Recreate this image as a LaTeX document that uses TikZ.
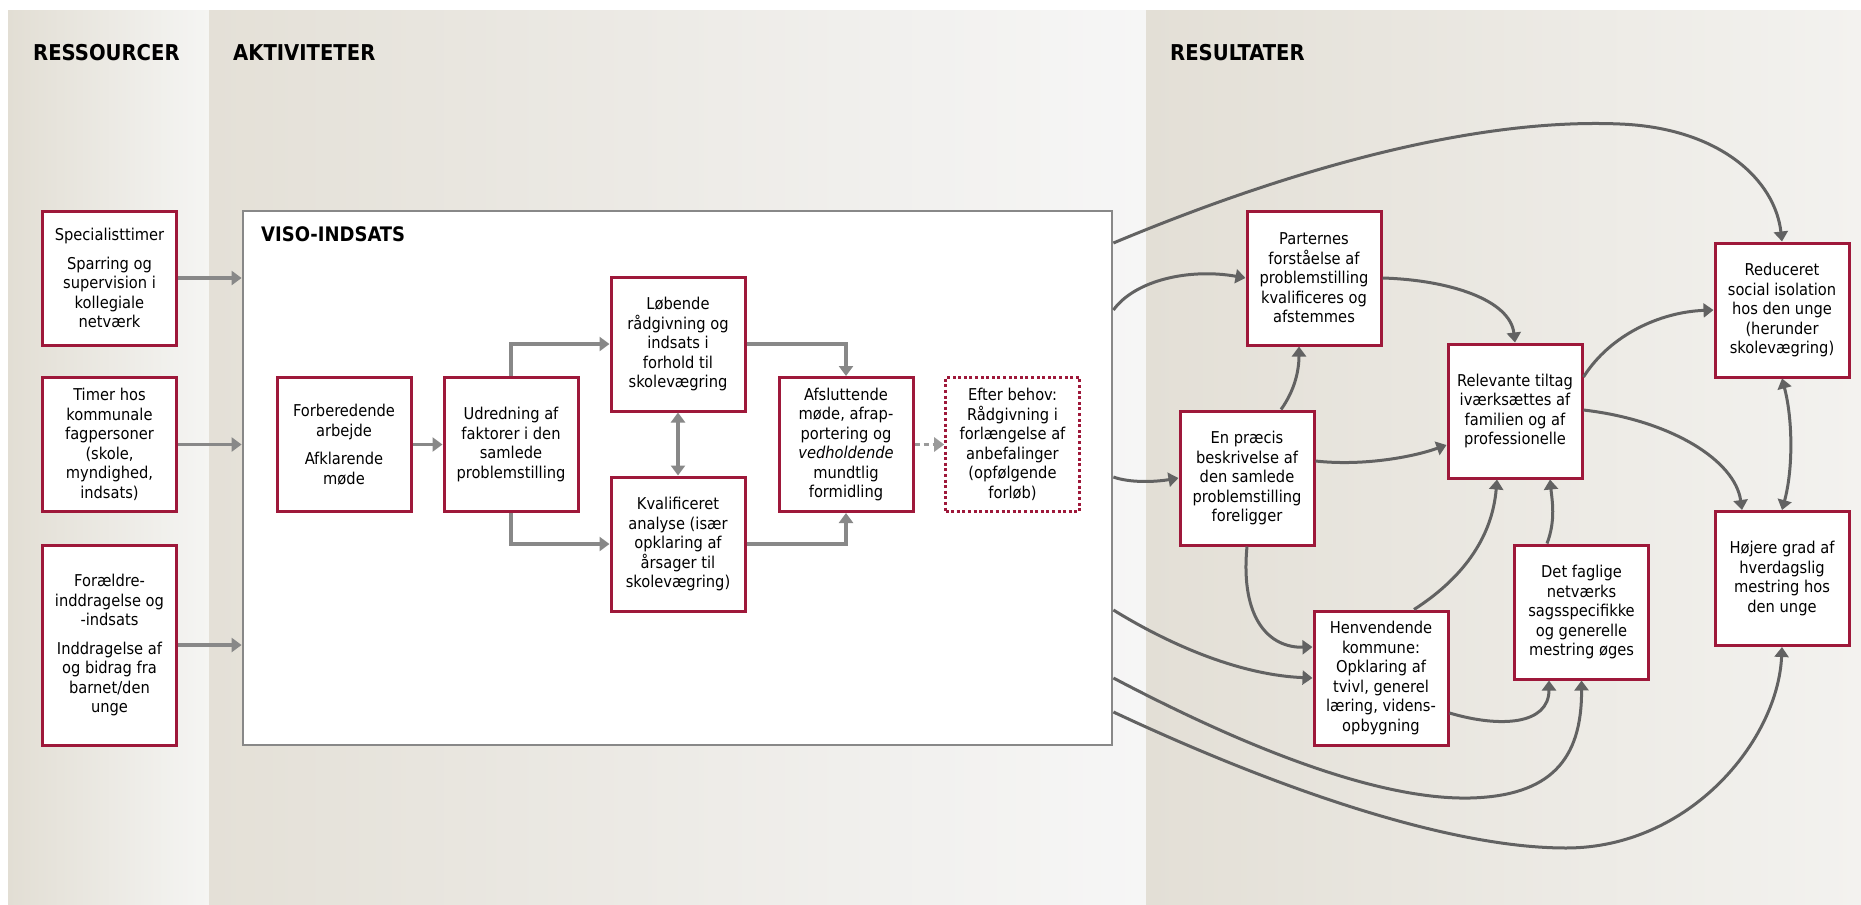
\documentclass[tikz,border=0pt]{standalone}
\usepackage{fontspec}
\setmainfont{DejaVu Sans Condensed}
\usetikzlibrary{arrows.meta,calc}

\definecolor{boxred}{RGB}{158,24,58}
\definecolor{flowgray}{RGB}{136,136,136}
\definecolor{linkgray}{RGB}{98,98,98}
\definecolor{resL}{RGB}{226,222,212}
\definecolor{resR}{RGB}{245,245,243}
\definecolor{aktL}{RGB}{228,224,215}
\definecolor{aktR}{RGB}{246,246,246}
\definecolor{udL}{RGB}{227,223,214}
\definecolor{udR}{RGB}{243,242,239}

\begin{document}
\begin{tikzpicture}[x=1pt,y=-1pt,
  box/.style={draw=boxred,line width=3pt,fill=white,minimum width=134pt,
    minimum height=134pt,inner sep=0pt,align=center,
    font=\fontsize{16.3}{19.5}\selectfont},
  optbox/.style={box,dash pattern=on 3pt off 2.6pt,line width=2.6pt},
  header/.style={anchor=west,inner sep=0pt,font=\fontsize{21.8}{26}\selectfont\bfseries},
  tip/.style={-{Triangle[length=10pt,width=14pt]}},
  bothtips/.style={{Triangle[length=10pt,width=14pt]}-{Triangle[length=10pt,width=14pt]}},
  flow/.style={draw=flowgray,line width=3.2pt,tip},
  link/.style={draw=linkgray,line width=3pt,tip},
]
% page and column panels
\fill[white] (0,0) rectangle (1861,905);
\path[use as bounding box] (0,0) rectangle (1861,905);
\shade[left color=resL,right color=resR] (8,10) rectangle (209,905);
\shade[left color=aktL,right color=aktR] (209,10) rectangle (1146,905);
\shade[left color=udL,right color=udR] (1146,10) rectangle (1861,905);

\node[header] (hres) at (33,52.5) {RESSOURCER};
\node[header] (hakt) at (233,52.5) {AKTIVITETER};
\node[header] (hud) at (1170,52.5) {RESULTATER};

% resources
\node[box] (spec) at (109.5,278) {Specialisttimer\\[9pt]Sparring og\\supervision i\\kollegiale\\netværk};
\node[box] (timer) at (109.5,444.5) {Timer hos\\kommunale\\fagpersoner\\(skole,\\myndighed,\\indsats)};
\node[box,minimum height=200pt] (foraeld) at (109.5,645) {Forældre-\\inddragelse og\\-indsats\\[9pt]Inddragelse af\\og bidrag fra\\barnet/den\\unge};

% VISO frame
\node[draw=flowgray,line width=2.8pt,fill=white,minimum width=869pt,
  minimum height=534pt,inner sep=0pt] (viso) at (677.5,478) {};
\node[anchor=west,inner sep=0pt,font=\fontsize{20}{24}\selectfont\bfseries] (vlabel) at (261,234.5) {VISO-INDSATS};

% activities
\node[box] (forb) at (344,444.5) {Forberedende\\arbejde\\[9pt]Afklarende\\møde};
\node[box] (udr) at (511,444.5) {Udredning af\\faktorer i den\\samlede\\problemstilling};
\node[box] (lob) at (678,344) {Løbende\\rådgivning og\\indsats i\\forhold til\\skolevægring};
\node[box] (kval) at (678,544) {Kvalificeret\\analyse (især\\opklaring af\\årsager til\\skolevægring)};
\node[box] (afsl) at (846,444.5) {Afsluttende\\møde, afrap-\\portering og\\\textit{vedholdende}\\mundtlig\\formidling};
\node[optbox] (efter) at (1012.5,444.5) {Efter behov:\\Rådgivning i\\forlængelse af\\anbefalinger\\(opfølgende\\forløb)};

% results
\node[box] (part) at (1314,278) {Parternes\\forståelse af\\problemstilling\\kvalificeres og\\afstemmes};
\node[box] (enp) at (1247,478) {En præcis\\beskrivelse af\\den samlede\\problemstilling\\foreligger};
\node[box] (relev) at (1515,411) {Relevante tiltag\\iværksættes af\\familien og af\\professionelle};
\node[box] (henv) at (1381,678) {Henvendende\\kommune:\\Opklaring af\\tvivl, generel\\læring, videns-\\opbygning};
\node[box] (fagl) at (1581.5,612) {Det faglige\\netværks\\sagsspecifikke\\og generelle\\mestring øges};
\node[box] (reduc) at (1782,310) {Reduceret\\social isolation\\hos den unge\\(herunder\\skolevægring)};
\node[box] (hoj) at (1782,578.5) {Højere grad af\\hverdagslig\\mestring hos\\den unge};

% resources feed the VISO work
\draw[flow] (spec.east) -- (spec.east -| viso.west);
\draw[flow] (timer.east) -- (timer.east -| viso.west);
\draw[flow] (foraeld.east) -- (foraeld.east -| viso.west);

% flow inside the VISO work
\draw[flow] (forb.east) -- (udr.west);
\draw[flow] (udr.north) |- (lob.west);
\draw[flow] (udr.south) |- (kval.west);
\draw[flow,bothtips] (lob.south) -- (kval.north);
\draw[flow] (lob.east) -| (afsl.north);
\draw[flow] (kval.east) -| (afsl.south);
\draw[flow,draw=flowgray!85,dash pattern=on 5pt off 4pt] (afsl.east) -- (efter.west);

% outlets on the right edge of the VISO frame
\coordinate (vo1) at (viso.east |- 0,243);
\coordinate (vo2) at (viso.east |- 0,310);
\coordinate (vo3) at (viso.east |- 0,477);
\coordinate (vo4) at (viso.east |- 0,610);
\coordinate (vo5) at (viso.east |- 0,678);
\coordinate (vo6) at (viso.east |- 0,712);

\draw[link] (vo1) .. controls (1300,165) and (1480,118) .. (1620,124)
  .. controls (1720,128) and (1775,180) .. (reduc.north);
\draw[link] (vo2) .. controls (1135,280) and (1190,268) .. (part.west);
\draw[link] (vo3) .. controls (1130,483) and (1155,482) .. (enp.west);
\draw[link] (vo4) .. controls (1170,645) and (1240,675) .. (henv.west);
\draw[link] (vo5) .. controls (1250,750) and (1380,800) .. (1470,798)
  .. controls (1550,796) and (1582,760) .. (fagl.south);
\draw[link] (vo6) .. controls (1280,790) and (1450,848) .. (1566,848)
  .. controls (1690,848) and (1778,740) .. (hoj.south);

% links between results
\draw[link] (1281,0 |- enp.north) .. controls (1295,390) and (1299,370) .. (1299,0 |- part.south);
\draw[link] (part.east) .. controls (1450,280) and (1510,300) .. (relev.north);
\draw[link] (enp.east |- 0,461) .. controls (1360,466) and (1410,458) .. (relev.west |- 0,445);
\draw[link] (enp.south) .. controls (1240,620) and (1270,648) .. (henv.west |- 0,647);
\draw[link] (1414,0 |- henv.north) .. controls (1460,580) and (1492,540) .. (1497,0 |- relev.south);
\draw[link] (1547,0 |- fagl.north) .. controls (1556,520) and (1552,500) .. (1550,0 |- relev.south);
\draw[link] (henv.east |- 0,713) .. controls (1500,728) and (1549,725) .. (1549,0 |- fagl.south);
\draw[link] (relev.east |- 0,377) .. controls (1610,335) and (1660,312) .. (reduc.west);
\draw[link] (relev.east |- 0,410) .. controls (1670,420) and (1735,460) .. (1742,0 |- hoj.north);
\draw[link,bothtips] (reduc.south) .. controls (1793,420) and (1793,470) .. (hoj.north);
\end{tikzpicture}
\end{document}
